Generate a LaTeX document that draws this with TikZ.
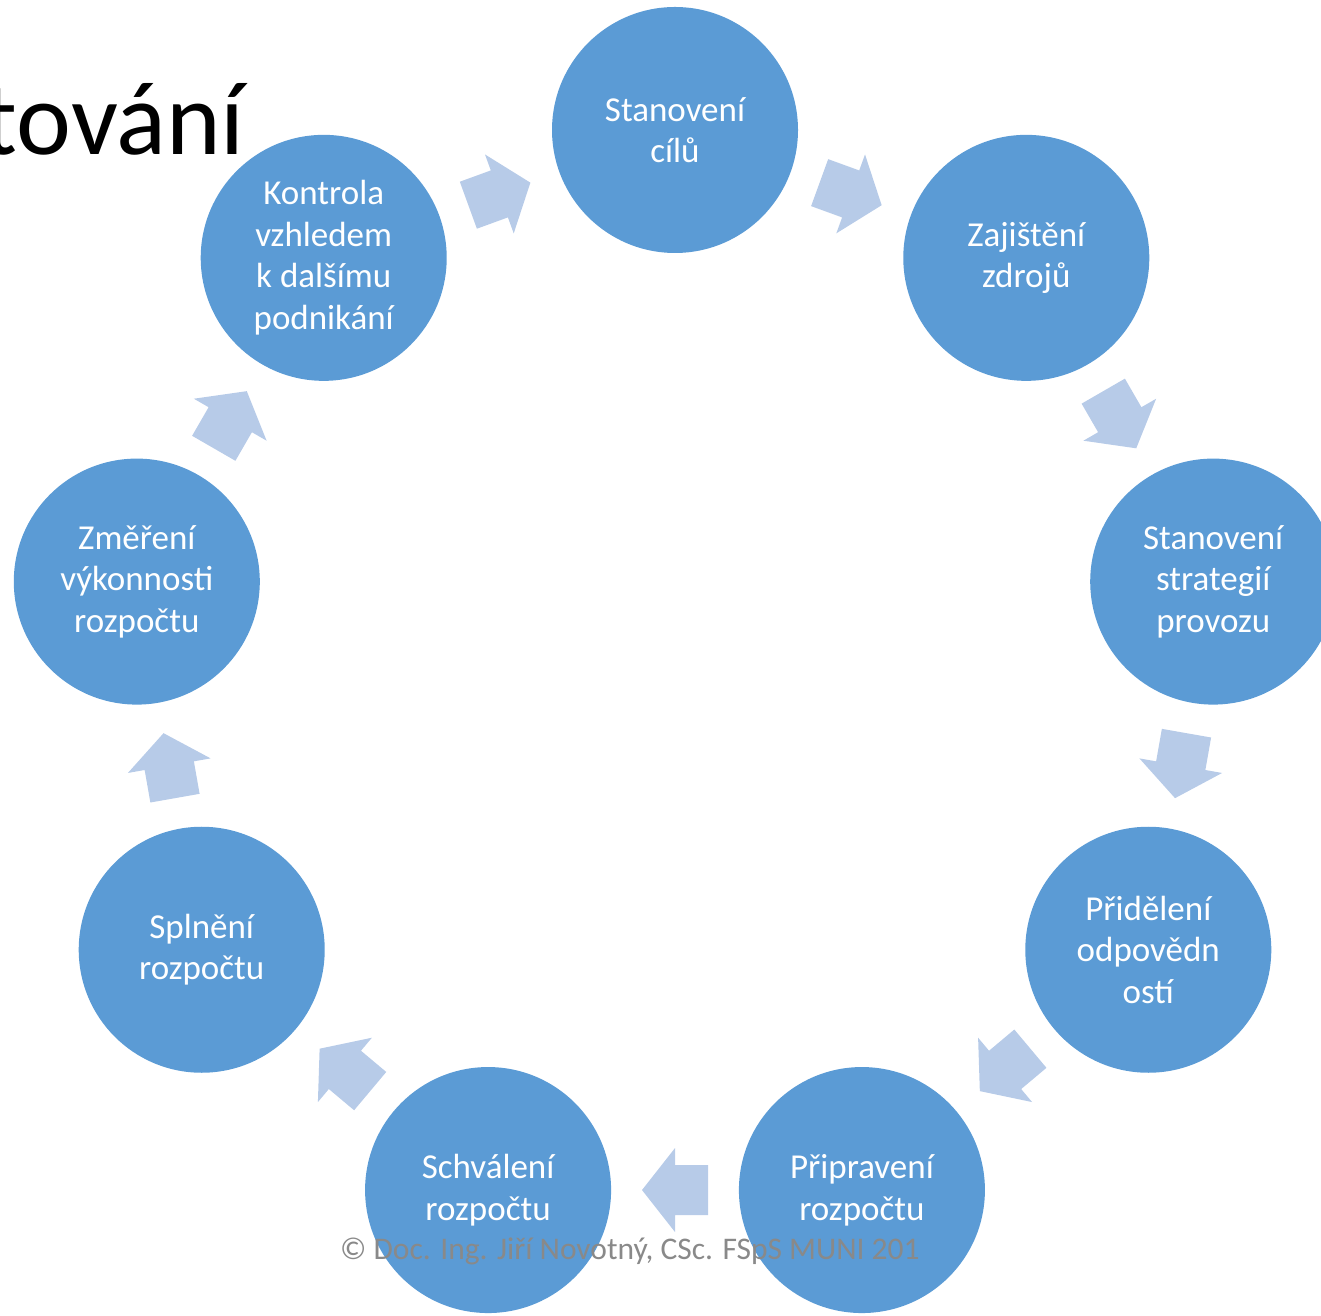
\documentclass[tikz,border=0pt]{standalone}
\usepackage{fontspec}
\setmainfont{Carlito}
\usetikzlibrary{calc}

\begin{document}
\begin{tikzpicture}[x=1pt,y=1pt]
\definecolor{fillColor}{RGB}{91,155,213}
\definecolor{arrowColor}{RGB}{183,203,232}
\definecolor{noteColor}{RGB}{137,137,137}
\tikzset{
  stage/.style={circle,fill=fillColor,minimum size=246pt,inner sep=0pt,
    text=white,align=center,font=\fontsize{35}{41.5}\selectfont},
}
\path[use as bounding box] (0,0) rectangle (1321,1315);
\begin{scope}
\path[clip] (0,0) rectangle (1321,1315);

% heading, runs off the left edge
\node[anchor=base east,inner sep=0pt,font=\fontsize{104}{124}\selectfont] (title) at (245,1160) {tování};

% the nine stages round the cycle
\coordinate (ring) at (675,638.5);
\node[stage] (cile) at ($(ring)+(90:546.5)$) {Stanovení\\cílů};
\node[stage] (zdroje) at ($(ring)+(50:546.5)$) {Zajištění\\zdrojů};
\node[stage] (strategie) at ($(ring)+(10:546.5)$) {Stanovení\\strategií\\provozu};
\node[stage] (odpovednost) at ($(ring)+(-30:546.5)$) {Přidělení\\odpovědn\\ostí};
\node[stage] (priprava) at ($(ring)+(-70:546.5)$) {Připravení\\rozpočtu};
\node[stage] (schvaleni) at ($(ring)+(-110:546.5)$) {Schválení\\rozpočtu};
\node[stage] (splneni) at ($(ring)+(-150:546.5)$) {Splnění\\rozpočtu};
\node[stage] (mereni) at ($(ring)+(170:546.5)$) {Změření\\výkonnosti\\rozpočtu};
\node[stage] (kontrola) at ($(ring)+(130:546.5)$) {Kontrola\\vzhledem\\k dalšímu\\podnikání};

% block arrows half way between neighbours
\foreach \a/\b in {cile/zdroje,zdroje/strategie,strategie/odpovednost,
    odpovednost/priprava,priprava/schvaleni,schvaleni/splneni,
    splneni/mereni,mereni/kontrola,kontrola/cile}{
  \path let \p1=($(\b)-(\a)$), \n1={atan2(\y1,\x1)} in
    \pgfextra{\xdef\arrowAngle{\n1}};
  \path[fill=arrowColor,shift={($(\a)!0.5!(\b)$)},rotate=\arrowAngle]
    (-33,-25) -- (0,-25) -- (0,-42) -- (33,0) -- (0,42) -- (0,25) -- (-33,25) -- cycle;
}

\node[anchor=base west,inner sep=0pt,text=noteColor,font=\fontsize{31.5}{38}\selectfont] (note) at (340,56) {© Doc. Ing. Jiří Novotný, CSc. FSpS MUNI 201};
\end{scope}
\end{tikzpicture}
\end{document}
